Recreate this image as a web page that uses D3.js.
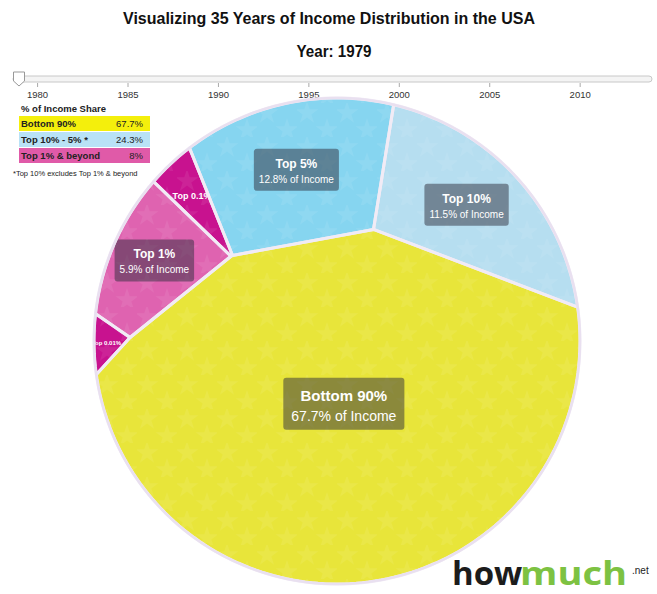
<!DOCTYPE html>
<html>
<head>
<meta charset="utf-8">
<script src="https://cdn.jsdelivr.net/npm/d3@7"></script>
<style>
  body { margin: 0; background: #fff; }
  text { font-family: "Liberation Sans", Arial, sans-serif; }
</style>
</head>
<body>
<div id="chart"></div>
<script>
// ---- data ----
var cellLabels = ["Top 5%", "Top 10%", "Bottom 90%", "Top 0.01%", "Top 1%", "Top 0.1%"];
var cellShares = [12.8, 11.5, 67.7, 0.6, 5.9, 1.5];
var legendLabels = ["Bottom 90%", "Top 10% - 5% *", "Top 1% & beyond"];
var legendValues = [67.7, 24.3, 8];
var yearTicks = [1980, 1985, 1990, 1995, 2000, 2005, 2010];
var yearRange = [1979, 2014];
var currentYear = 1979;

var cellColors = ["#86d5f0", "#b6def0", "#e8e53a", "#c8128f", "#df63b0", "#c8128f"];
var legendColors = ["#f4ef0c", "#b9e2f6", "#e05aa8"];

var svgWidth = 657;
var svgHeight = 594;
var cx = 337, cy = 341, R = 243;
var tilt = -6 * Math.PI / 180; // small rotation of the starting layout

var svg = d3.select("#chart")
  .append("svg")
  .attr("width", svgWidth)
  .attr("height", svgHeight);

// Titles
svg.append("text")
  .attr("x", 329).attr("y", 24)
  .attr("text-anchor", "middle")
  .attr("textLength", 412).attr("lengthAdjust", "spacingAndGlyphs")
  .style("font-size", "17px").style("font-weight", "bold").style("fill", "#111")
  .text("Visualizing 35 Years of Income Distribution in the USA");

svg.append("text")
  .attr("x", 334).attr("y", 57)
  .attr("text-anchor", "middle")
  .attr("textLength", 75).attr("lengthAdjust", "spacingAndGlyphs")
  .style("font-size", "17px").style("font-weight", "bold").style("fill", "#111")
  .text("Year: " + currentYear);

// Year slider
var x = d3.scaleLinear().domain(yearRange).range([19, 652]);

svg.append("rect")
  .attr("x", x(yearRange[0]) - 6).attr("y", 76)
  .attr("width", x(yearRange[1]) - x(yearRange[0]) + 6).attr("height", 6)
  .attr("rx", 3)
  .attr("fill", "#f4f4f4").attr("stroke", "#c8c8c8");

var axis = svg.append("g")
  .attr("transform", "translate(0,83)")
  .call(d3.axisBottom(x).tickValues(yearTicks).tickFormat(d3.format("d")).tickSize(4).tickPadding(4));
axis.select(".domain").remove();
axis.selectAll(".tick line").attr("stroke", "#aaa");
axis.selectAll(".tick text")
  .style("font-family", "'Liberation Sans', Arial, sans-serif")
  .style("font-size", "9.5px").style("fill", "#333");

var hx = x(currentYear);
svg.append("path")
  .attr("d", "M" + (hx - 5.5) + ",72 h11 v9 l-5.5,5 l-5.5,-5 Z")
  .attr("fill", "#fff").attr("stroke", "#999").attr("stroke-width", 1);

// Legend
var legend = svg.append("g").attr("transform", "translate(19,104)");
legend.append("text")
  .attr("x", 2).attr("y", 8)
  .style("font-size", "9.5px").style("font-weight", "bold").style("fill", "#222")
  .text("% of Income Share");

var rows = legend.selectAll(".row")
  .data(legendLabels)
  .enter()
  .append("g")
  .attr("class", "row")
  .attr("transform", function(d, i) { return "translate(0," + (12 + i * 16) + ")"; });

rows.append("rect")
  .attr("width", 131).attr("height", 15)
  .attr("fill", function(d, i) { return legendColors[i]; });

rows.append("text")
  .attr("x", 2).attr("y", 11)
  .style("font-size", "9.5px").style("font-weight", "bold").style("fill", "#222")
  .text(function(d) { return d; });

rows.append("text")
  .attr("x", 124).attr("y", 11)
  .attr("text-anchor", "end")
  .style("font-size", "9.5px").style("fill", "#222")
  .text(function(d, i) { return legendValues[i] + "%"; });

legend.append("text")
  .attr("x", -6).attr("y", 72)
  .style("font-size", "7.5px").style("fill", "#222")
  .text("*Top 10% excludes Top 1% & beyond");

// ---- power diagram (weighted voronoi) inside the circle ----
function clipHalf(poly, a, b, c) {
  var out = [];
  for (var i = 0; i < poly.length; i++) {
    var p = poly[i], q = poly[(i + 1) % poly.length];
    var fp = a * p[0] + b * p[1] - c, fq = a * q[0] + b * q[1] - c;
    if (fp <= 0) out.push(p);
    if ((fp < 0 && fq > 0) || (fp > 0 && fq < 0)) {
      var t = fp / (fp - fq);
      out.push([p[0] + t * (q[0] - p[0]), p[1] + t * (q[1] - p[1])]);
    }
  }
  return out;
}

var circle = d3.range(240).map(function(i) {
  var a = i / 240 * 2 * Math.PI;
  return [R * Math.cos(a), R * Math.sin(a)];
});

function cellOf(i, sites, w) {
  var p = sites[i], poly = circle;
  sites.forEach(function(q, j) {
    if (j === i || poly.length < 3) return;
    poly = clipHalf(poly, 2 * (q[0] - p[0]), 2 * (q[1] - p[1]),
      q[0] * q[0] + q[1] * q[1] - p[0] * p[0] - p[1] * p[1] - w[j] + w[i]);
  });
  return poly;
}
function area(poly) { return poly.length < 3 ? 0 : Math.abs(d3.polygonArea(poly)); }

var total = d3.sum(cellShares);
var before = (cellShares[0] + cellShares[1] + cellShares[2] / 2) / total;
var start = Math.PI - before * 2 * Math.PI + tilt;
var arcs = d3.pie().sort(null).startAngle(start).endAngle(start + 2 * Math.PI)(cellShares);

// start each site at the centroid of its pie sector
var sites = arcs.map(function(a) {
  var th = a.endAngle - a.startAngle, m = (a.startAngle + a.endAngle) / 2;
  var d = 4 * R * Math.sin(th / 2) / (3 * th);
  return [d * Math.sin(m), -d * Math.cos(m)];
});

var circleArea = area(circle);
var targets = cellShares.map(function(s) { return s / total * circleArea; });
var w = sites.map(function() { return 0; });

for (var it = 0; it < 400; it++) {
  var areas = sites.map(function(s, i) { return area(cellOf(i, sites, w)); });
  var nw = w.slice();
  for (var i = 0; i < sites.length; i++) {
    var w2 = w.slice(); w2[i] += 40;
    var der = Math.max((area(cellOf(i, sites, w2)) - areas[i]) / 40, 0.05);
    var step = 0.5 * (targets[i] - areas[i]) / der;
    nw[i] = w[i] + Math.max(-3000, Math.min(3000, step));
  }
  w = nw;
}

var cells = sites.map(function(s, i) {
  return { label: cellLabels[i], share: cellShares[i], color: cellColors[i], poly: cellOf(i, sites, w) };
});

// ---- draw pie ----
var pie = svg.append("g").attr("transform", "translate(" + cx + "," + cy + ")");

var defs = svg.append("defs");
var pattern = defs.append("pattern")
  .attr("id", "stars").attr("patternUnits", "userSpaceOnUse")
  .attr("width", 40).attr("height", 34);
pattern.append("path")
  .attr("d", d3.symbol(d3.symbolStar, 160)())
  .attr("transform", "translate(10,10)")
  .attr("fill", "#fff").attr("opacity", 0.07);
pattern.append("path")
  .attr("d", d3.symbol(d3.symbolStar, 160)())
  .attr("transform", "translate(30,27)")
  .attr("fill", "#fff").attr("opacity", 0.07);

var line = d3.line();

cells.forEach(function(d, i) {
  defs.append("clipPath").attr("id", "clip" + i)
    .append("path").attr("d", line(d.poly) + "Z");
});

pie.selectAll(".cell")
  .data(cells)
  .enter()
  .append("path")
  .attr("class", "cell")
  .attr("d", function(d) { return line(d.poly) + "Z"; })
  .attr("fill", function(d) { return d.color; });

pie.selectAll(".cell-stars")
  .data(cells)
  .enter()
  .append("path")
  .attr("class", "cell-stars")
  .attr("d", function(d) { return line(d.poly) + "Z"; })
  .attr("fill", "url(#stars)");

// labels (small ones are clipped to their own cell)
cells.forEach(function(d, i) {
  var c = d3.polygonCentroid(d.poly);
  if (d.share >= 5) {
    var g = pie.append("g").attr("transform", "translate(" + c[0] + "," + c[1] + ")");
    var big = d.share >= 50;
    var t1 = big ? 15 : 12, t2 = big ? 14 : 10;
    var box = g.append("rect").attr("rx", 3)
      .attr("fill", "rgba(45,45,60,0.5)");
    var a = g.append("text").attr("text-anchor", "middle")
      .attr("y", big ? -5 : -4)
      .style("font-size", t1 + "px").style("font-weight", "bold").style("fill", "#fff")
      .text(d.label);
    var b = g.append("text").attr("text-anchor", "middle")
      .attr("y", big ? 15 : 11)
      .style("font-size", t2 + "px").style("fill", "#fff")
      .text(d.share + "% of Income");
    var bw = Math.max(a.node().getComputedTextLength(), b.node().getComputedTextLength()) + (big ? 16 : 10);
    var bh = big ? 52 : 42;
    box.attr("x", -bw / 2).attr("y", -bh / 2 - 2).attr("width", bw).attr("height", bh);
  } else {
    pie.append("g").attr("clip-path", "url(#clip" + i + ")")
      .append("text").attr("text-anchor", "middle")
      .attr("x", c[0]).attr("y", c[1] + 3)
      .style("font-size", (d.share >= 1 ? 9 : 6) + "px").style("font-weight", "bold").style("fill", "#fff")
      .text(d.label);
  }
});

pie.selectAll(".cell-edge")
  .data(cells)
  .enter()
  .append("path")
  .attr("class", "cell-edge")
  .attr("d", function(d) { return line(d.poly) + "Z"; })
  .attr("fill", "none")
  .attr("stroke", "#f1ebf5")
  .attr("stroke-width", 3)
  .attr("stroke-linejoin", "round");

pie.append("circle")
  .attr("r", R)
  .attr("fill", "none")
  .attr("stroke", "#e9e0f0")
  .attr("stroke-width", 2.5);

// logo
svg.append("text")
  .attr("x", 452).attr("y", 585)
  .style("font-family", "'Open Sans', sans-serif")
  .style("font-size", "33px").style("font-weight", "bold").style("fill", "#1c1c1c")
  .text("how");
svg.append("text")
  .attr("x", 520).attr("y", 585)
  .attr("textLength", 107).attr("lengthAdjust", "spacingAndGlyphs")
  .style("font-family", "'Open Sans', sans-serif")
  .style("font-size", "33px").style("font-weight", "bold").style("fill", "#7dc242")
  .text("much");
svg.append("text")
  .attr("x", 632).attr("y", 574)
  .style("font-size", "10px").style("fill", "#222")
  .text(".net");
</script>
</body>
</html>
